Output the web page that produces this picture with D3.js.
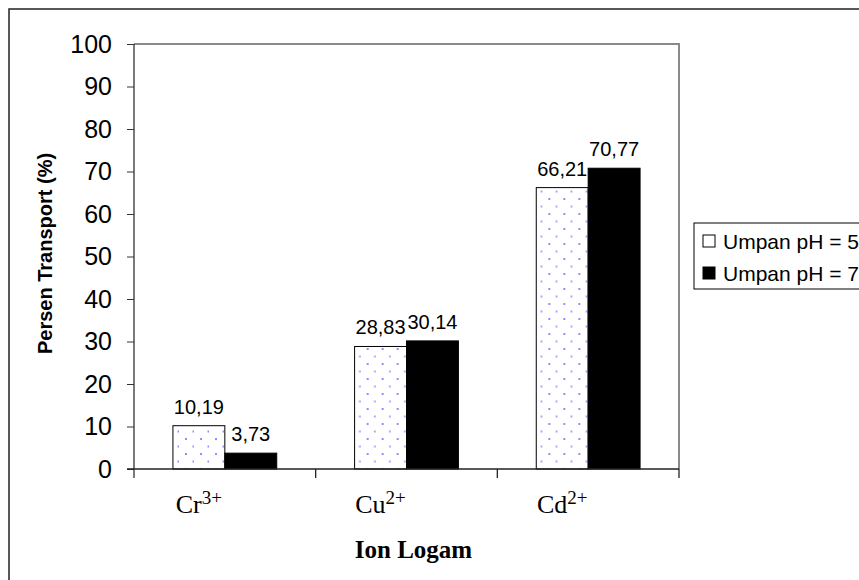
<!DOCTYPE html>
<html>
<head>
<meta charset="utf-8">
<script src="https://cdn.jsdelivr.net/npm/d3@7"></script>
<style>
  body { margin: 0; background: #fff; }
  svg { display: block; }
</style>
</head>
<body>
<div id="chart"></div>
<script>
// data
var ions = ['Cr', 'Cu', 'Cd'];
var charges = ['3+', '2+', '2+'];
var series = ['Umpan pH = 5', 'Umpan pH = 7'];
var ph5 = [10.19, 28.83, 66.21];
var ph7 = [3.73, 30.14, 70.77];
var yTicks = [0, 10, 20, 30, 40, 50, 60, 70, 80, 90, 100];

var rows = ions.map(function(ion, i) {
  return { ion: ion, charge: charges[i], values: [ph5[i], ph7[i]] };
});

var sans = '"Liberation Sans", Arial, sans-serif';
var serif = '"Liberation Serif", "Times New Roman", serif';

var width = 859, height = 580;
// plot box ("top" is taken by window.top, so prefixed names)
var pLeft = 134, pRight = 679, pTop = 44, pBottom = 469;

var svg = d3.select('#chart').append('svg')
  .attr('width', width)
  .attr('height', height);

// dotted fill used for the pH 5 bars
var defs = svg.append('defs');
var pat = defs.append('pattern')
  .attr('id', 'dots')
  .attr('patternUnits', 'userSpaceOnUse')
  .attr('width', 15)
  .attr('height', 15);
pat.append('rect').attr('width', 15).attr('height', 15).attr('fill', '#fff');
pat.append('rect').attr('x', 6).attr('y', 3).attr('width', 2).attr('height', 2).attr('fill', '#8f8fff');
pat.append('rect').attr('x', 13.5).attr('y', 10.5).attr('width', 2).attr('height', 2).attr('fill', '#8f8fff');

// outer frame (runs off the right and bottom of the picture)
svg.append('rect')
  .attr('x', 9).attr('y', 9)
  .attr('width', 900).attr('height', 600)
  .attr('fill', 'none')
  .attr('stroke', '#222')
  .attr('stroke-width', 1.5);

var x0 = d3.scaleBand().domain(ions).range([pLeft, pRight]);
var x1 = d3.scaleBand().domain(series).range([0, x0.bandwidth()]).paddingOuter(0.75);
var y = d3.scaleLinear().domain([0, 100]).range([pBottom, pTop]);

// plot area border, top and right in grey
svg.append('path')
  .attr('d', 'M' + pLeft + ',' + y(100) + 'H' + pRight + 'V' + y(0))
  .attr('fill', 'none')
  .attr('stroke', '#8a8a8a')
  .attr('stroke-width', 2);

// bars
var groups = svg.selectAll('.grp')
  .data(rows)
  .enter().append('g')
  .attr('class', 'grp')
  .attr('transform', function(d) { return 'translate(' + x0(d.ion) + ',0)'; });

groups.selectAll('rect')
  .data(function(d) { return d.values.map(function(v, j) { return { s: series[j], v: v, j: j }; }); })
  .enter().append('rect')
  .attr('x', function(d) { return x1(d.s); })
  .attr('y', function(d) { return y(d.v); })
  .attr('width', x1.bandwidth())
  .attr('height', function(d) { return y(0) - y(d.v); })
  .attr('fill', function(d) { return d.j === 0 ? 'url(#dots)' : '#000'; })
  .attr('stroke', '#000')
  .attr('stroke-width', 1);

groups.selectAll('.lbl')
  .data(function(d) { return d.values.map(function(v, j) { return { s: series[j], v: v }; }); })
  .enter().append('text')
  .attr('class', 'lbl')
  .attr('x', function(d) { return x1(d.s) + x1.bandwidth() / 2; })
  .attr('y', function(d) { return y(d.v) - 12; })
  .attr('text-anchor', 'middle')
  .style('font-family', sans)
  .style('font-size', '20px')
  .text(function(d) { return d.v.toFixed(2).replace('.', ','); });

// y axis
var yAxis = svg.append('g')
  .attr('transform', 'translate(' + pLeft + ',0)')
  .call(d3.axisLeft(y).tickValues(yTicks).tickSize(7).tickPadding(15).tickSizeOuter(0));
yAxis.select('.domain').remove();
yAxis.selectAll('.tick line').attr('stroke', '#333');
yAxis.selectAll('.tick text')
  .style('font-family', sans)
  .style('font-size', '25px')
  .attr('fill', '#000');
svg.append('line')
  .attr('x1', pLeft).attr('x2', pLeft)
  .attr('y1', y(100)).attr('y2', y(0) + 9)
  .attr('stroke', '#333').attr('stroke-width', 1.3);

// x axis: baseline and ticks between categories
svg.append('line')
  .attr('x1', pLeft - 7).attr('x2', pRight)
  .attr('y1', y(0)).attr('y2', y(0))
  .attr('stroke', '#222').attr('stroke-width', 1.3);
var edges = ions.map(function(c) { return x0(c) + x0.bandwidth(); });
svg.selectAll('.xtick')
  .data(edges)
  .enter().append('line')
  .attr('class', 'xtick')
  .attr('x1', function(d) { return d; }).attr('x2', function(d) { return d; })
  .attr('y1', y(0)).attr('y2', y(0) + 9)
  .attr('stroke', '#222').attr('stroke-width', 1.3);

// category labels with superscript charge, centred on the first bar
var cl = svg.selectAll('.cat')
  .data(rows)
  .enter().append('text')
  .attr('class', 'cat')
  .attr('x', function(d) { return x0(d.ion) + x1(series[0]) + x1.bandwidth() / 2; })
  .attr('y', 513)
  .attr('text-anchor', 'middle')
  .style('font-family', serif)
  .style('font-size', '26px');
cl.append('tspan').text(function(d) { return d.ion; });
cl.append('tspan')
  .attr('dy', -9)
  .style('font-size', '19px')
  .text(function(d) { return d.charge; });

// axis titles
svg.append('text')
  .attr('x', (pLeft + pRight) / 2 + 7)
  .attr('y', 558)
  .attr('text-anchor', 'middle')
  .style('font-family', serif)
  .style('font-size', '25px')
  .style('font-weight', 'bold')
  .text('Ion Logam');

svg.append('text')
  .attr('transform', 'translate(52,' + ((pTop + pBottom) / 2 - 3) + ') rotate(-90)')
  .attr('text-anchor', 'middle')
  .style('font-family', sans)
  .style('font-size', '20px')
  .style('font-weight', 'bold')
  .text('Persen Transport (%)');

// legend
var lg = svg.append('g').attr('transform', 'translate(694,223)');
lg.append('rect')
  .attr('width', 200).attr('height', 66)
  .attr('fill', '#fff')
  .attr('stroke', '#000').attr('stroke-width', 1);
var items = lg.selectAll('.item')
  .data(series)
  .enter().append('g')
  .attr('class', 'item')
  .attr('transform', function(d, i) { return 'translate(9,' + (12 + i * 32) + ')'; });
items.append('rect')
  .attr('width', 12).attr('height', 12)
  .attr('fill', function(d, i) { return i === 0 ? '#fff' : '#000'; })
  .attr('stroke', '#000').attr('stroke-width', 1);
items.append('text')
  .attr('x', 20)
  .attr('y', 6)
  .attr('dy', '0.36em')
  .style('font-family', sans)
  .style('font-size', '21px')
  .text(function(d) { return d; });
</script>
</body>
</html>
